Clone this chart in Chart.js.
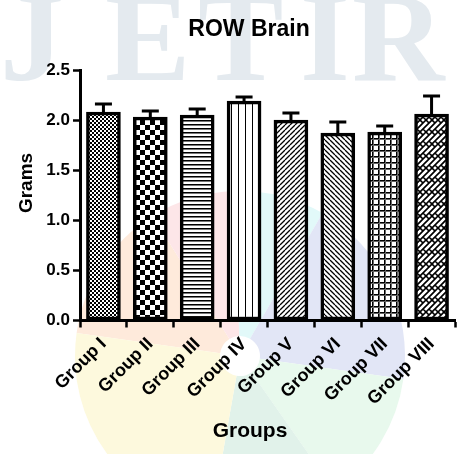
<!DOCTYPE html>
<html>
<head>
<meta charset="utf-8">
<script src="https://cdn.jsdelivr.net/npm/chart.js@4.4.1/dist/chart.umd.min.js"></script>
<style>
  html, body { margin: 0; padding: 0; background: #fff; }
  canvas { display: block; }
</style>
</head>
<body>
<canvas id="c" width="459" height="454"></canvas>
<script>
// ROW brain weight per group (mean ± SEM, grams)
const groups = ['Group I', 'Group II', 'Group III', 'Group IV', 'Group V', 'Group VI', 'Group VII', 'Group VIII'];
const meanWeights = [2.08, 2.03, 2.05, 2.19, 2.00, 1.87, 1.88, 2.06];
const semWeights = [0.08, 0.06, 0.06, 0.04, 0.07, 0.11, 0.06, 0.18];
const yTicks = [0, 0.5, 1.0, 1.5, 2.0, 2.5];

const FONT = '"Liberation Sans", Arial, sans-serif';
const helper = document.createElement('canvas').getContext('2d');

function tile(w, h, draw) {
  const c = document.createElement('canvas');
  c.width = w; c.height = h;
  const g = c.getContext('2d');
  g.fillStyle = '#fff';
  g.fillRect(0, 0, w, h);
  g.fillStyle = '#000';
  g.strokeStyle = '#000';
  draw(g, w, h);
  return helper.createPattern(c, 'repeat');
}

function diag(g, w, h, dir, lw) {
  g.lineWidth = lw;
  g.beginPath();
  for (let k = -2; k <= 2; k++) {
    if (dir > 0) { g.moveTo(k * w, h); g.lineTo(k * w + w, 0); }
    else { g.moveTo(k * w, 0); g.lineTo(k * w + w, h); }
  }
  g.stroke();
}

const fills = [
  // fine checker
  tile(4, 4, g => { g.fillRect(0, 0, 2, 2); g.fillRect(2, 2, 2, 2); }),
  // coarse checker
  tile(10, 10, g => { g.fillRect(0, 0, 5, 5); g.fillRect(5, 5, 5, 5); }),
  // horizontal lines
  tile(4, 4, g => { g.fillRect(0, 0, 4, 1); g.fillStyle = '#777'; g.fillRect(0, 1, 4, 1); }),
  // vertical lines
  tile(7, 4, g => { g.fillRect(0, 0, 1, 4); }),
  // forward hatch
  tile(5, 5, g => diag(g, 5, 5, 1, 1.3)),
  // backward hatch
  tile(5, 5, g => diag(g, 5, 5, -1, 1.3)),
  // grid
  tile(6, 6, g => { g.fillRect(0, 0, 6, 1); g.fillRect(0, 0, 1, 6); g.fillStyle = '#666'; g.fillRect(0, 1, 6, 1); g.fillRect(1, 0, 1, 6); }),
  // diagonal brick
  tile(12, 12, g => {
    g.lineWidth = 1.6;
    g.beginPath();
    for (let ox = -12; ox <= 12; ox += 12) {
      for (let oy = -12; oy <= 12; oy += 12) {
        for (let c = 0; c <= 24; c += 6) { g.moveTo(ox + c, oy); g.lineTo(ox + c - 12, oy + 12); }
        g.moveTo(ox + 0, oy + 0); g.lineTo(ox + 3, oy + 3);
        g.moveTo(ox + 6, oy + 0); g.lineTo(ox + 9, oy + 3);
        g.moveTo(ox + 3, oy + 9); g.lineTo(ox + 6, oy + 12);
        g.moveTo(ox + 9, oy + 9); g.lineTo(ox + 12, oy + 12);
      }
    }
    g.stroke();
  })
];

// faint journal watermark behind the plot
const backdrop = {
  id: 'backdrop',
  beforeDraw(chart) {
    const ctx = chart.ctx;
    ctx.save();
    ctx.fillStyle = '#fff';
    ctx.fillRect(0, 0, chart.width, chart.height);
    const cx = 240, cy = 356, r0 = 20, r1 = 165;
    const petals = [
      [188, 238, '#feeadb'],
      [238, 268, '#fde6e8'],
      [268, 300, '#e2f9f9'],
      [300, 368, '#e2e6f6'],
      [8, 55, '#e8f9ed'],
      [55, 100, '#e1f2ea'],
      [100, 188, '#fdf9dd']
    ];
    petals.forEach(([a0, a1, col]) => {
      ctx.beginPath();
      ctx.arc(cx, cy, r1, a0 * Math.PI / 180, a1 * Math.PI / 180);
      ctx.arc(cx, cy, r0, a1 * Math.PI / 180, a0 * Math.PI / 180, true);
      ctx.closePath();
      ctx.fillStyle = col;
      ctx.fill();
    });
    ctx.fillStyle = '#e4eaef';
    ctx.font = 'bold 128px "Liberation Serif", serif';
    ctx.textBaseline = 'alphabetic';
    ctx.textAlign = 'left';
    [['J', 0], ['E', 105], ['T', 198], ['I', 300], ['R', 352]].forEach(([ch, x]) => ctx.fillText(ch, x, 80));
    ctx.restore();
  }
};

// upward SEM bars with caps
const errorBars = {
  id: 'errorBars',
  afterDatasetsDraw(chart) {
    const ctx = chart.ctx;
    const yScale = chart.scales.y;
    const meta = chart.getDatasetMeta(0);
    ctx.save();
    ctx.strokeStyle = '#000';
    ctx.lineWidth = 3;
    meta.data.forEach((bar, i) => {
      const top = yScale.getPixelForValue(meanWeights[i] + semWeights[i]);
      ctx.beginPath();
      ctx.moveTo(bar.x, bar.y);
      ctx.lineTo(bar.x, top);
      ctx.moveTo(bar.x - 8.5, top);
      ctx.lineTo(bar.x + 8.5, top);
      ctx.stroke();
    });
    ctx.restore();
  }
};

// chart and axis titles
const labels = {
  id: 'labels',
  afterDraw(chart) {
    const ctx = chart.ctx;
    ctx.save();
    ctx.fillStyle = '#000';
    ctx.textAlign = 'center';
    ctx.textBaseline = 'middle';
    ctx.font = 'bold 23px ' + FONT;
    ctx.fillText('ROW Brain', 249, 30);
    ctx.font = 'bold 21px ' + FONT;
    ctx.fillText('Groups', 250, 431);
    ctx.translate(27, 183);
    ctx.rotate(-Math.PI / 2);
    ctx.font = 'bold 19px ' + FONT;
    ctx.fillText('Grams', 0, 0);
    ctx.restore();
  }
};

const axisGrid = {
  display: true,
  drawOnChartArea: false,
  drawTicks: true,
  tickLength: 7,
  tickWidth: 2.5,
  tickColor: '#000'
};

new Chart(document.getElementById('c'), {
  type: 'bar',
  data: {
    labels: groups,
    datasets: [{
      data: meanWeights,
      backgroundColor: fills,
      borderColor: '#000',
      borderWidth: 3.5,
      borderSkipped: false,
      barThickness: 34
    }]
  },
  options: {
    responsive: false,
    animation: false,
    devicePixelRatio: 1,
    layout: { padding: { left: 0, right: 4, top: 70, bottom: 0 } },
    plugins: {
      legend: { display: false },
      title: { display: false },
      tooltip: { enabled: false }
    },
    scales: {
      x: {
        offset: true,
        grid: axisGrid,
        border: { display: true, color: '#000', width: 3 },
        ticks: {
          color: '#000',
          autoSkip: false,
          minRotation: 45,
          maxRotation: 45,
          padding: 6,
          font: { family: FONT, weight: 'bold', size: 18 }
        },
        afterFit(scale) { scale.height = 133.5; }
      },
      y: {
        min: 0,
        max: 2.5,
        grid: axisGrid,
        border: { display: true, color: '#000', width: 3 },
        ticks: {
          color: '#000',
          padding: 3,
          font: { family: FONT, weight: 'bold', size: 17 },
          callback: v => Number(v).toFixed(1)
        },
        afterBuildTicks(scale) { scale.ticks = yTicks.map(v => ({ value: v })); },
        afterFit(scale) { scale.width = 80; }
      }
    }
  },
  plugins: [backdrop, errorBars, labels]
});
</script>
</body>
</html>
